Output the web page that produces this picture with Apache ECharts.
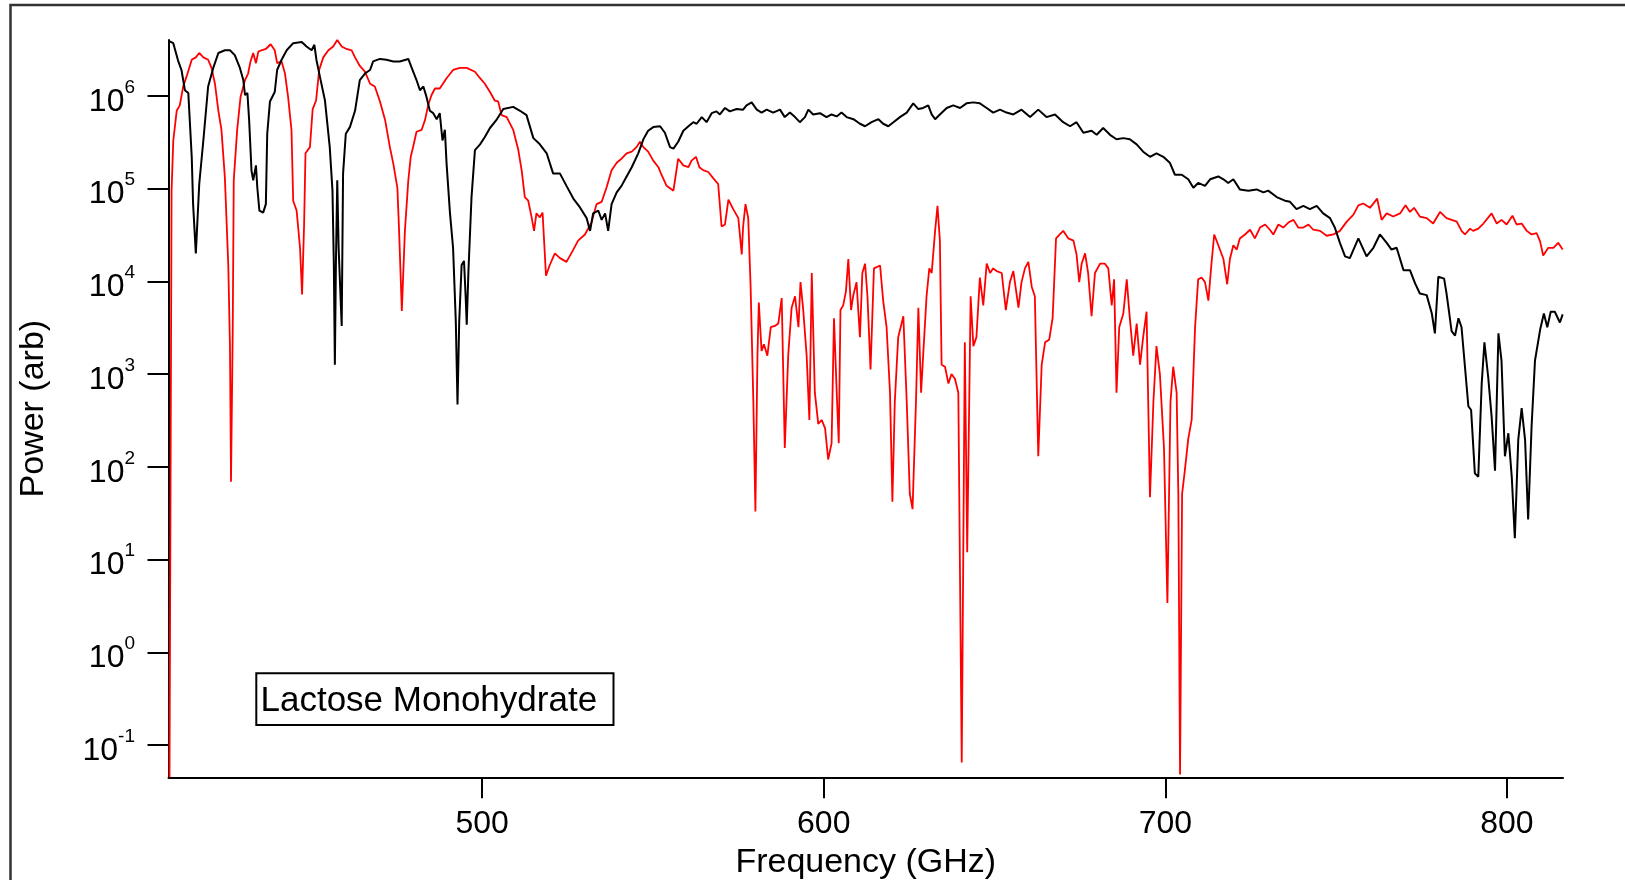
<!DOCTYPE html>
<html><head><meta charset="utf-8">
<script src="https://cdn.jsdelivr.net/npm/echarts@6/dist/echarts.min.js"></script>
<style>html,body{margin:0;padding:0;background:#fff}#c{width:1625px;height:880px}</style>
</head><body><div id="c"></div>
<script>
// Frequency (GHz) and power (arb), black trace
const freqBlack = [408.4,409.6,411.0,412.0,413.0,414.0,415.0,415.4,416.2,417.2,418.4,419.8,421.3,422.8,424.7,426.2,427.6,429.1,430.1,430.6,431.3,431.8,432.5,433.0,433.8,434.2,434.8,435.9,436.7,437.1,437.9,439.3,440.0,441.3,442.8,444.7,447.2,448.6,450.1,450.9,451.5,452.5,454.0,455.4,456.2,456.6,456.9,457.2,457.6,458.0,458.9,459.3,460.1,461.3,462.8,464.2,465.7,467.2,468.1,470.1,472.0,474.0,475.9,478.4,479.4,480.8,481.8,482.8,483.7,484.7,485.7,486.7,487.6,488.4,489.1,489.6,490.6,491.5,492.3,492.8,493.3,494.0,494.7,495.2,495.5,496.0,496.9,497.9,499.4,500.8,502.3,504.2,506.2,509.1,511.1,513.0,515.0,516.9,518.9,520.8,522.8,524.7,526.7,528.6,530.6,531.6,532.5,534.0,535.0,536.0,536.9,537.9,539.4,540.8,542.3,543.8,545.7,547.2,548.6,550.1,552.1,553.5,555.0,556.0,557.4,558.9,560.4,561.8,562.8,564.3,565.7,567.2,568.6,569.6,571.1,572.5,574.5,576.4,577.4,578.9,580.4,581.8,583.3,585.2,587.2,588.6,590.1,591.6,593.0,594.5,595.5,596.9,598.9,600.8,602.3,603.8,605.2,606.7,608.7,610.6,612.1,614.0,616.0,617.4,618.9,620.4,622.3,624.3,626.2,627.7,629.1,630.6,631.6,632.6,634.0,636.0,637.9,639.9,641.8,643.8,645.7,647.7,649.6,651.6,653.5,655.5,657.9,660.4,662.8,665.2,667.7,670.1,672.1,674.0,676.0,678.4,679.9,681.8,683.8,685.7,687.7,689.6,691.6,693.5,695.5,697.4,699.4,701.3,702.8,704.8,706.7,708.2,709.6,711.6,713.1,715.5,717.0,718.4,719.9,721.8,724.3,726.7,728.7,730.1,732.6,735.0,736.5,738.4,740.4,742.3,744.3,746.2,748.2,749.6,751.1,752.6,754.0,756.5,758.9,760.9,762.8,764.8,766.2,767.7,769.7,771.6,773.1,774.5,776.5,778.0,778.9,779.9,781.6,782.3,783.8,784.8,785.8,786.7,787.7,788.7,789.5,790.6,791.6,792.6,793.4,794.5,795.5,796.5,797.5,798.4,799.4,800.4,801.4,802.3,803.3,804.3,805.3,806.2,807.2,808.2,809.7,810.8,811.8,812.8,814.0,815.5,816.3];
const powerBlack = [3.9e6,3.7e6,2.4e6,1.9e6,1.15e6,1.07e6,2.2e5,6.8e4,2.0e4,1.12e5,3.3e5,1.26e6,2.0e6,2.9e6,3.1e6,3.1e6,2.75e6,2.0e6,1.48e6,1.02e6,1.07e6,5.5e5,1.55e5,1.23e5,1.78e5,1.02e5,5.8e4,5.5e4,6.8e4,3.9e5,8.7e5,1.1e6,1.9e6,2.45e6,3.1e6,3.7e6,3.8e6,3.4e6,3.1e6,3.55e6,2.45e6,1.62e6,8.9e5,2.8e5,9.5e4,1.5e4,1.26e3,1.5e4,1.23e5,2.3e4,3.3e3,1.45e5,3.9e5,4.6e5,6.9e5,1.48e6,1.74e6,1.9e6,2.35e6,2.5e6,2.45e6,2.35e6,2.35e6,2.5e6,2.0e6,1.48e6,1.15e6,1.26e6,9.8e5,6.9e5,6.5e5,5.6e5,6.5e5,3.3e5,4.3e5,1.86e5,5.4e4,2.3e4,3.7e3,4.7e2,3.7e3,1.5e4,1.66e4,6.6e3,3.4e3,1.29e4,8.1e4,2.6e5,3.0e5,3.6e5,4.5e5,5.5e5,7.2e5,7.6e5,6.9e5,6.2e5,3.5e5,3.0e5,2.4e5,1.45e5,1.45e5,1.07e5,7.8e4,6.3e4,4.8e4,3.5e4,5.4e4,5.8e4,4.6e4,5.4e4,3.5e4,6.8e4,9.1e4,1.07e5,1.35e5,1.7e5,2.4e5,3.4e5,4.2e5,4.6e5,4.7e5,4.0e5,2.8e5,2.7e5,3.2e5,4.2e5,4.7e5,5.2e5,5.0e5,5.9e5,5.2e5,6.5e5,6.8e5,6.3e5,7.4e5,6.8e5,7.2e5,7.1e5,7.9e5,8.5e5,7.1e5,6.6e5,7.1e5,6.6e5,7.1e5,5.9e5,6.6e5,5.9e5,5.2e5,5.9e5,7.1e5,6.3e5,6.5e5,5.9e5,6.3e5,6.0e5,6.6e5,5.9e5,5.6e5,5.0e5,4.7e5,5.2e5,5.6e5,5.0e5,4.7e5,5.2e5,5.9e5,6.6e5,8.3e5,7.2e5,7.4e5,7.9e5,6.3e5,5.6e5,6.3e5,7.4e5,7.9e5,7.4e5,8.3e5,8.5e5,8.3e5,7.4e5,6.6e5,7.1e5,6.6e5,6.3e5,7.1e5,5.9e5,7.1e5,5.9e5,6.3e5,5.2e5,4.7e5,5.2e5,4.0e5,4.2e5,3.8e5,4.5e5,3.8e5,3.4e5,3.5e5,3.4e5,3.0e5,2.5e5,2.2e5,2.4e5,2.2e5,1.9e5,1.41e5,1.41e5,1.26e5,1.02e5,1.15e5,1.07e5,1.26e5,1.35e5,1.26e5,1.15e5,1.26e5,9.8e4,9.5e4,9.8e4,9.1e4,9.5e4,8.1e4,7.4e4,7.2e4,6.0e4,6.5e4,6.0e4,6.5e4,5.4e4,4.8e4,3.8e4,2.6e4,1.86e4,1.78e4,2.9e4,1.86e4,2.3e4,3.2e4,2.6e4,2.2e4,2.3e4,1.32e4,1.32e4,9.5e3,7.4e3,7.1e3,4.5e3,2.75e3,1.12e4,1.07e4,7.4e3,2.9e3,2.6e3,4.0e3,3.2e3,1.2e3,4.5e2,4.1e2,85,78,7.9e2,2.2e3,9.3e2,3.5e2,91,2.75e3,1.4e3,1.3e2,2.3e2,78,17,1.95e2,4.3e2,1.95e2,27,2.7e2,1.4e3,3.0e3,4.5e3,3.2e3,4.7e3,4.7e3,3.6e3,4.4e3];
// red trace
const freqRed = [408.5,409.1,409.6,410.6,411.5,412.5,413.5,415.0,416.2,417.2,418.4,419.8,420.8,421.8,422.8,423.7,424.7,425.7,426.2,426.5,427.0,427.3,428.3,429.3,430.6,431.5,432.2,433.0,433.8,434.5,435.4,436.7,438.1,439.3,440.0,441.3,442.3,443.2,444.2,444.7,445.7,446.7,447.3,447.9,448.3,449.6,450.4,451.4,452.3,453.5,455.0,456.4,457.6,458.9,460.3,461.8,462.8,464.2,465.7,467.2,468.6,470.1,471.6,473.0,474.0,475.2,475.7,476.5,477.4,478.4,479.1,479.8,480.8,482.3,483.3,484.2,485.2,486.2,487.6,489.6,491.5,493.5,495.5,497.9,499.4,500.8,502.3,503.7,504.7,505.7,507.2,509.1,510.6,511.6,512.5,513.5,514.5,515.2,515.9,516.9,517.7,518.7,519.8,521.3,522.8,524.7,526.7,528.1,530.1,532.0,533.5,535.0,536.4,537.9,539.4,540.8,542.3,543.8,545.2,546.2,547.2,548.6,550.1,551.6,552.5,554.0,556.0,557.4,558.9,560.4,561.3,562.6,563.6,564.7,566.2,567.7,569.1,570.1,571.1,572.1,573.5,575.0,576.0,576.4,577.1,577.9,578.6,579.4,580.0,580.6,581.0,581.8,582.5,583.5,584.5,585.7,586.7,587.7,588.6,589.6,590.6,591.6,592.6,593.2,594.0,595.0,595.8,596.5,597.4,598.4,599.4,600.4,601.3,602.3,603.0,603.8,604.4,604.9,605.7,606.5,607.2,608.0,608.6,609.6,610.6,611.3,612.1,612.8,613.7,614.7,616.5,617.4,618.4,619.4,620.1,620.8,621.8,623.3,624.3,625.2,626.0,627.0,627.7,628.5,629.1,630.1,630.9,631.6,632.6,633.3,634.0,634.5,635.5,636.5,637.4,638.4,639.4,640.4,641.3,642.0,643.0,643.8,644.7,645.7,646.7,647.7,648.7,649.6,650.6,652.1,653.3,654.5,655.5,657.0,657.9,658.9,659.9,660.9,661.8,662.8,663.8,664.8,666.0,667.0,668.0,669.1,670.1,671.6,673.1,674.0,674.8,675.5,676.5,677.4,678.4,679.4,680.9,682.3,683.3,684.3,685.0,685.7,686.5,687.7,688.7,689.6,690.6,691.6,692.6,693.5,694.5,695.5,696.5,697.4,698.4,699.6,700.6,701.5,702.3,703.3,703.8,704.3,704.9,705.7,706.7,707.7,708.7,709.6,710.6,711.6,712.6,713.5,714.3,715.5,717.0,718.1,718.9,719.9,720.9,721.8,723.3,724.8,726.2,727.7,729.2,730.6,731.6,733.1,734.5,736.0,737.5,738.9,740.4,741.9,743.3,745.3,747.2,749.2,751.1,753.1,755.0,756.5,757.9,759.9,762.0,763.3,764.8,766.7,768.7,770.3,771.6,772.8,774.5,776.5,778.4,780.4,782.3,785.3,786.7,787.7,789.2,790.1,791.6,793.1,795.5,797.0,798.4,799.9,801.6,802.8,804.3,805.8,807.2,808.7,809.7,810.6,812.1,813.6,815.0,816.3];
const powerRed = [0.045,9.5e4,3.3e5,6.9e5,7.9e5,1.26e6,1.62e6,2.45e6,2.6e6,2.9e6,2.6e6,2.45e6,2.0e6,1.35e6,6.9e5,4.3e5,1.32e5,1.5e4,1.9e3,69,2.9e3,1.23e5,4.3e5,9.8e5,1.48e6,1.74e6,2.35e6,2.9e6,2.25e6,3.0e6,3.1e6,3.2e6,3.6e6,3.1e6,2.25e6,2.35e6,1.74e6,9.8e5,4.3e5,7.4e4,5.8e4,2.3e4,7.2e3,4.2e4,2.4e5,2.8e5,7.2e5,8.9e5,1.9e6,2.6e6,3.1e6,3.4e6,4.0e6,3.4e6,3.2e6,3.1e6,2.6e6,2.1e6,1.82e6,1.35e6,1.26e6,8.7e5,5.5e5,2.8e5,1.86e5,1.02e5,3.5e4,4.8e3,3.5e4,1.23e5,2.2e5,2.8e5,4.1e5,4.3e5,5.5e5,7.9e5,1.02e6,1.2e6,1.2e6,1.55e6,1.9e6,2.0e6,2.0e6,1.82e6,1.55e6,1.35e6,1.1e6,8.9e5,8.7e5,6.2e5,5.9e5,4.3e5,2.6e5,1.55e5,8.1e4,7.4e4,4.9e4,3.5e4,5.4e4,4.9e4,5.5e4,1.15e4,1.5e4,2.0e4,1.78e4,1.62e4,2.2e4,2.75e4,3.2e4,4.3e4,6.8e4,7.2e4,1.02e5,1.58e5,1.9e5,2.1e5,2.4e5,2.5e5,2.8e5,3.2e5,2.8e5,2.5e5,2.0e5,1.7e5,1.41e5,1.07e5,9.5e4,2.1e5,1.78e5,1.7e5,2.0e5,2.2e5,1.7e5,1.58e5,1.51e5,1.29e5,1.12e5,3.9e4,4.1e4,7.6e4,6.0e4,4.8e4,1.95e4,3.9e4,6.8e4,4.8e4,8.7e3,5.0e2,33,1.58e3,5.9e3,1.78e3,2.1e3,1.58e3,3.2e3,3.3e3,3.5e3,6.6e3,1.6e2,1.58e3,5.2e3,6.9e3,3.2e3,9.8e3,4.9e3,1.58e3,3.2e2,1.23e4,6.3e2,2.9e2,3.2e2,2.6e2,1.2e2,1.8e2,4.0e3,6.3e2,1.8e2,4.9e3,5.5e3,7.8e3,1.74e4,4.9e3,6.9e3,9.8e3,2.5e3,1.23e4,1.55e4,6.9e3,1.12e3,1.38e4,1.48e4,6.2e3,3.2e3,6.3e2,42,5.0e2,2.5e3,4.2e3,5.0e2,51,35,5.0e2,5.2e3,6.3e2,1.58e3,6.9e3,1.38e4,1.23e4,3.5e4,6.5e4,2.75e4,1.26e3,1.2e3,7.9e2,1.0e3,8.9e2,6.3e2,0.065,2.2e3,12,6.9e3,2.0e3,2.5e3,1.1e4,5.5e3,1.55e4,1.23e4,1.38e4,1.29e4,1.23e4,4.9e3,9.8e3,1.29e4,5.2e3,9.8e3,1.38e4,1.62e4,8.7e3,6.9e3,130,1.26e3,2.2e3,2.35e3,4.0e3,2.9e4,3.2e4,3.5e4,2.9e4,2.75e4,1.95e4,9.8e3,1.55e4,2.0e4,1.23e4,4.2e3,1.23e4,1.55e4,1.55e4,1.38e4,5.5e3,1.05e4,630,3.2e3,4.5e3,1.05e4,4.0e3,1.58e3,3.5e3,1.26e3,2.5e3,4.7e3,47,500,2.0e3,1.0e3,160,3.4,500,1.2e3,630,51,0.048,51,91,200,320,3.2e3,1.05e4,1.1e4,9.8e3,6.2e3,1.55e4,3.2e4,2.45e4,1.74e4,9.3e3,1.74e4,2.45e4,2.2e4,2.9e4,3.2e4,3.6e4,2.9e4,3.8e4,4.1e4,3.6e4,3.2e4,4.1e4,3.8e4,4.3e4,4.6e4,3.8e4,3.8e4,4.1e4,3.6e4,3.5e4,3.1e4,3.2e4,3.5e4,4.4e4,5.2e4,6.6e4,6.9e4,6.2e4,7.8e4,4.6e4,5.4e4,5.0e4,5.4e4,6.6e4,5.6e4,6.2e4,5.0e4,4.8e4,4.2e4,5.6e4,4.8e4,4.4e4,3.5e4,3.2e4,3.7e4,3.5e4,3.7e4,4.2e4,5.4e4,4.2e4,4.6e4,4.1e4,5.1e4,4.1e4,4.2e4,3.5e4,3.2e4,3.3e4,2.7e4,1.9e4,2.3e4,2.3e4,2.6e4,2.2e4];
const yTickValues = [0.1, 1, 10, 100, 1000, 1e4, 1e5, 1e6];
const xTickValues = [500, 600, 700, 800];
const boxLabel = 'Lactose Monohydrate';
const xTitle = 'Frequency (GHz)';
const yTitle = 'Power (arb)';

const FONT = "'Liberation Sans', Arial, Helvetica, sans-serif";
const toPairs = (xs, ys) => xs.map((x, i) => [x, ys[i]]);
const chart = echarts.init(document.getElementById('c'), null, {renderer: 'canvas'});
chart.setOption({
  animation: false,
  backgroundColor: '#ffffff',
  grid: {left: 168.5, top: 40, right: 62, bottom: 102.7, outerBoundsMode: 'none'},
  xAxis: {
    type: 'value', min: 408.2, max: 816.4,
    name: xTitle, nameLocation: 'middle', nameGap: 66,
    nameTextStyle: {fontFamily: FONT, fontSize: 34, color: '#000'},
    axisLine: {show: true, onZero: false, lineStyle: {color: '#000', width: 2}},
    axisTick: {show: true, inside: false, length: 21, lineStyle: {color: '#000', width: 2}, customValues: xTickValues},
    axisLabel: {show: true, margin: 31, fontFamily: FONT, fontSize: 32, color: '#000', customValues: xTickValues},
    splitLine: {show: false}
  },
  yAxis: {
    type: 'log', logBase: 10, min: 0.0449, max: 4.0e6,
    name: yTitle, nameLocation: 'middle', nameGap: 118, nameRotate: 90,
    nameTextStyle: {fontFamily: FONT, fontSize: 34, color: '#000'},
    axisLine: {show: true, lineStyle: {color: '#000', width: 2}},
    axisTick: {show: true, inside: false, length: 21, lineStyle: {color: '#000', width: 2}, customValues: yTickValues},
    axisLabel: {
      show: true, margin: 33.5, customValues: yTickValues,
      formatter: function (v) { const e = Math.round(Math.log10(v)); return '{b|10}{s|' + e + '}'; },
      rich: {
        b: {fontFamily: FONT, fontSize: 32, color: '#000', padding: [12, 0, 0, 0], verticalAlign: 'middle'},
        s: {fontFamily: FONT, fontSize: 19, color: '#000', padding: [0, 0, 17, 0], verticalAlign: 'middle'}
      }
    },
    splitLine: {show: false}
  },
  series: [
    {type: 'line', name: 'red', data: toPairs(freqRed, powerRed), showSymbol: false, symbol: 'none',
     lineStyle: {color: '#ff0000', width: 1.8}, itemStyle: {color: '#ff0000'}, silent: true, z: 2},
    {type: 'line', name: 'black', data: toPairs(freqBlack, powerBlack), showSymbol: false, symbol: 'none',
     lineStyle: {color: '#000000', width: 2}, itemStyle: {color: '#000000'}, silent: true, z: 3}
  ],
  graphic: [
    {type: 'rect', silent: true, z: -10, shape: {x: 10.5, y: 5, width: 3000, height: 3000},
     style: {fill: 'none', stroke: '#333', lineWidth: 2.5}},
    {type: 'rect', silent: true, z: 100, shape: {x: 256.3, y: 673.3, width: 357.2, height: 51.7},
     style: {fill: '#fff', stroke: '#000', lineWidth: 2}},
    {type: 'text', silent: true, z: 101, x: 260.5, y: 701,
     style: {text: boxLabel, fontFamily: FONT, fontSize: 35, fill: '#000', verticalAlign: 'middle', align: 'left'}}
  ]
});
</script>
</body></html>
